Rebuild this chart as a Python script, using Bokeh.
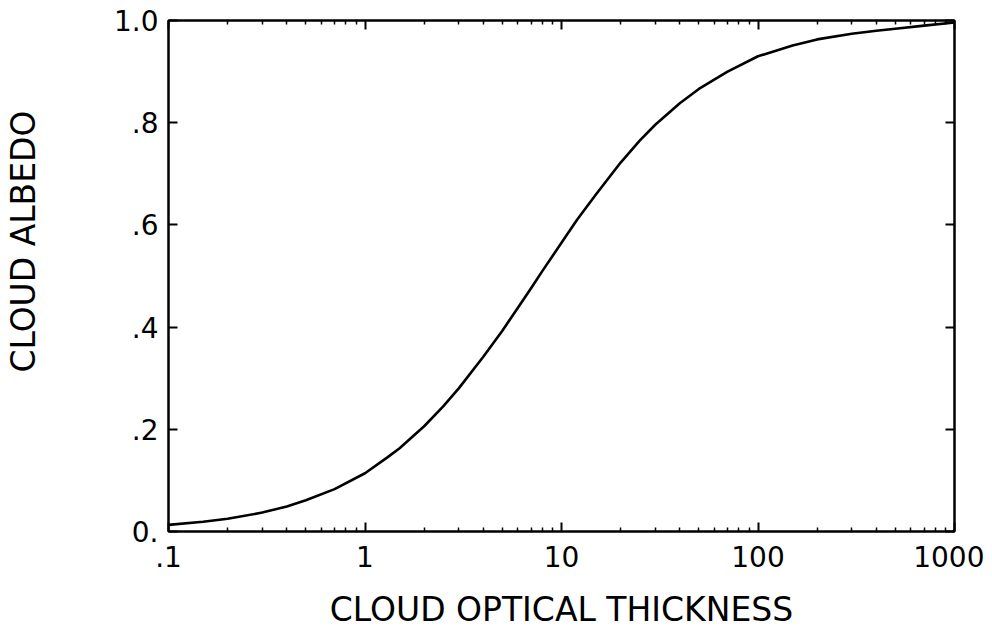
from bokeh.plotting import figure
from bokeh.models import (Range1d, FixedTicker, CustomJSTickFormatter, LogAxis, LinearAxis, Title)
from bokeh.embed import file_html
from bokeh.resources import INLINE

# ---- data ----
optical_thickness = [0.1, 0.15, 0.2, 0.3, 0.4, 0.5, 0.7, 1, 1.3, 1.5, 2, 2.5, 3, 4, 5,
                     6, 7, 8, 10, 12, 15, 20, 25, 30, 40, 50, 70, 100, 150, 200,
                     300, 400, 500, 700, 1000]
cloud_albedo = [0.013, 0.019, 0.025, 0.037, 0.049, 0.061, 0.083, 0.114, 0.145, 0.163,
                0.206, 0.245, 0.28, 0.342, 0.393, 0.438, 0.476, 0.51, 0.565, 0.61,
                0.66, 0.722, 0.765, 0.796, 0.838, 0.866, 0.9, 0.93, 0.951, 0.963,
                0.974, 0.98, 0.984, 0.99, 0.996]

x_tick_values = [0.1, 1, 10, 100, 1000]
x_tick_labels = [".1", "1", "10", "100", "1000"]
y_tick_values = [0.0, 0.2, 0.4, 0.6, 0.8, 1.0]
y_tick_labels = ["0.", ".2", ".4", ".6", ".8", "1.0"]

x_title = "CLOUD OPTICAL THICKNESS"
y_title = "CLOUD ALBEDO"

FONT = "DejaVu Sans"
x_minor = [m * d for d in x_tick_values[:-1] for m in range(2, 10)]

p = figure(width=984, height=631, x_axis_type="log",
           x_range=Range1d(0.1, 1000), y_range=Range1d(0, 1),
           output_backend="svg", toolbar_location=None,
           min_border_left=168, min_border_right=30, min_border_top=20,
           min_border_bottom=100)
p.grid.visible = False
p.background_fill_color = "white"
p.border_fill_color = "white"
p.outline_line_color = "black"
p.outline_line_width = 2

p.line(optical_thickness, cloud_albedo, line_color="black", line_width=2.6,
       line_join="round")

label_code = """
const i = tvals.findIndex(t => Math.abs(t - tick) <= 1e-9 * Math.max(1, Math.abs(t)));
return i >= 0 ? tlabels[i] : '';
"""
xfmt = CustomJSTickFormatter(args=dict(tvals=x_tick_values, tlabels=x_tick_labels), code=label_code)
yfmt = CustomJSTickFormatter(args=dict(tvals=y_tick_values, tlabels=y_tick_labels), code=label_code)
blank = CustomJSTickFormatter(code="return '';")

def style(ax):
    ax.axis_line_width = 2
    ax.axis_line_color = "black"
    ax.major_tick_in = 9
    ax.major_tick_out = 0
    ax.minor_tick_in = 4
    ax.minor_tick_out = 0
    ax.major_tick_line_width = 2
    ax.minor_tick_line_width = 1.5
    ax.major_tick_line_color = "black"
    ax.minor_tick_line_color = "black"
    ax.major_label_text_font = FONT
    ax.major_label_text_font_size = "28px"
    ax.major_label_text_color = "black"
    ax.axis_label_text_font = FONT
    ax.axis_label_text_font_style = "normal"
    ax.axis_label_text_font_size = "33px"
    ax.axis_label_text_color = "black"

xa = p.xaxis[0]
xa.ticker = FixedTicker(ticks=x_tick_values, minor_ticks=x_minor)
xa.formatter = xfmt
style(xa)
xa.major_label_standoff = 14
xa.axis_label = x_title
xa.axis_label_standoff = 20

ya = p.yaxis[0]
ya.ticker = FixedTicker(ticks=y_tick_values, minor_ticks=[])
ya.formatter = yfmt
style(ya)
ya.major_label_standoff = 10
ya.axis_label = " "            # spacer so the title sits near the left edge
ya.axis_label_standoff = 26

# vertical axis title, anchored toward the top like the reference
ytitle = Title(text=y_title, align="right", offset=90, standoff=0,
               vertical_align="bottom",
               text_font=FONT, text_font_size="33px", text_font_style="normal",
               text_color="black")
p.add_layout(ytitle, "left")

top = LogAxis(ticker=FixedTicker(ticks=x_tick_values, minor_ticks=x_minor), formatter=blank)
style(top)
top.major_label_text_font_size = "0px"
top.major_label_standoff = 0
p.add_layout(top, "above")

right = LinearAxis(ticker=FixedTicker(ticks=y_tick_values, minor_ticks=[]), formatter=blank)
style(right)
right.major_label_text_font_size = "0px"
right.major_label_standoff = 0
p.add_layout(right, "right")

open("out.html", "w").write(file_html(p, INLINE))
